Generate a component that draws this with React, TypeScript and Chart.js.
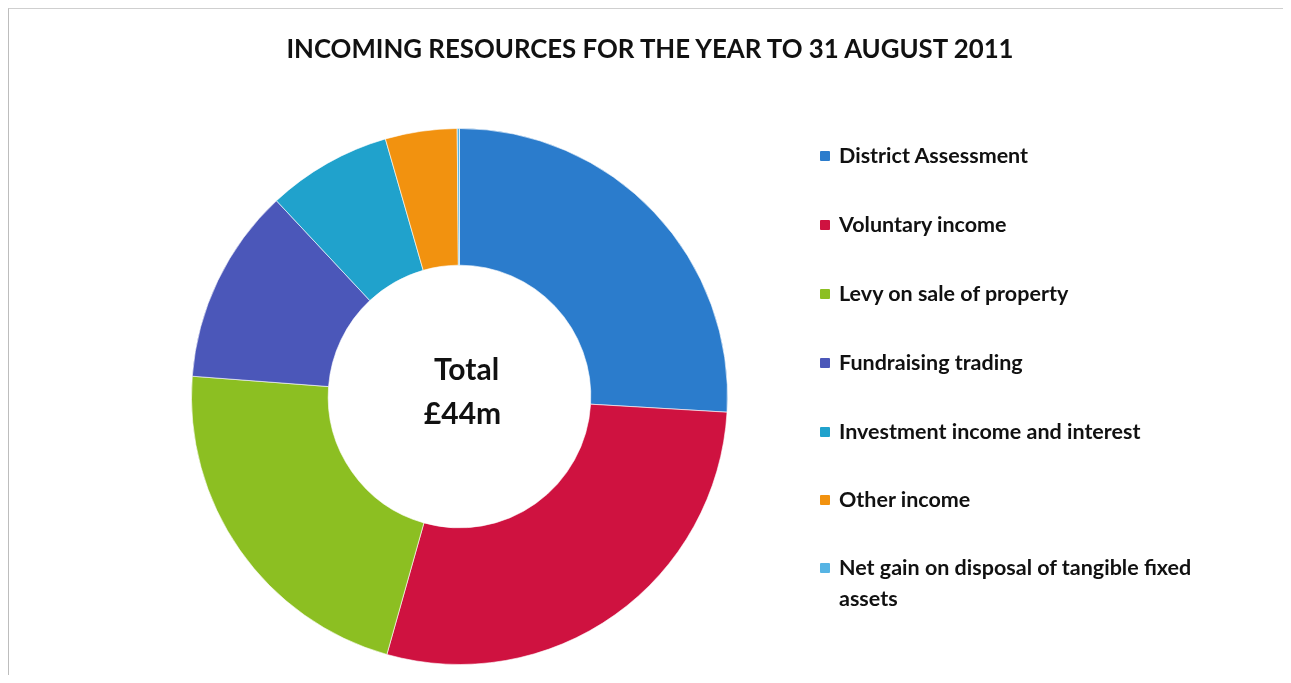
import React, { useEffect, useRef } from "react";
import { Chart, registerables } from "chart.js";

Chart.register(...registerables);

const TITLE = "INCOMING RESOURCES FOR THE YEAR TO 31 AUGUST 2011";
const categories = [
  "District Assessment",
  "Voluntary income",
  "Levy on sale of property",
  "Fundraising trading",
  "Investment income and interest",
  "Other income",
  "Net gain on disposal of tangible fixed assets",
];
// £m (total ≈ £44m)
const values = [11.4, 12.5, 9.6, 5.2, 3.3, 1.9, 0.06];
const colors = ["#2b7ccc", "#cf1240", "#8cbf22", "#4b57b9", "#20a2cc", "#f2920f", "#56b4e4"];
const centerLines = ["Total", "£44m"];

const FONT = "Lato, 'Open Sans', sans-serif";

const centerTextPlugin = {
  id: "centerText",
  afterDatasetsDraw(chart: any) {
    const meta = chart.getDatasetMeta(0);
    if (!meta.data.length) return;
    const { x, y } = meta.data[0];
    const ctx = chart.ctx;
    ctx.save();
    ctx.fillStyle = "#111";
    ctx.font = `bold 30px ${FONT}`;
    ctx.textAlign = "center";
    ctx.textBaseline = "middle";
    ctx.fillText(centerLines[0], x + 7, y - 26);
    ctx.fillText(centerLines[1], x + 3, y + 18);
    ctx.restore();
  },
};

export default function App() {
  const ref = useRef<HTMLCanvasElement>(null);
  useEffect(() => {
    if (!ref.current) return;
    const chart = new Chart(ref.current, {
      type: "doughnut",
      data: {
        labels: categories,
        datasets: [
          {
            data: values,
            backgroundColor: colors,
            borderColor: "rgba(255,255,255,0.6)",
            borderWidth: 1,
          },
        ],
      },
      options: {
        responsive: false,
        animation: false,
        cutout: "49%",
        layout: { padding: { left: 182, right: 555, top: 119, bottom: 10 } },
        plugins: {
          legend: { display: false },
          tooltip: { enabled: false },
          title: { display: false },
        },
      },
      plugins: [centerTextPlugin],
    });
    return () => chart.destroy();
  }, []);

  const legendCenter = [155, 224, 293, 362, 431, 499, 567];

  return (
    <div
      style={{
        position: "relative",
        width: 1275,
        height: 667,
        background: "#fff",
        borderTop: "1px solid #cfcfcf",
        borderLeft: "1px solid #bdbdbd",
        boxSizing: "border-box",
      }}
    >
      <canvas ref={ref} width={1274} height={666} style={{ display: "block" }} />
      <div
        style={{
          position: "absolute",
          left: 0,
          width: 1282,
          top: 21,
          textAlign: "center",
          fontFamily: FONT,
          fontWeight: 700,
          fontSize: 25.8,
          letterSpacing: 0,
          lineHeight: "36px",
          color: "#111",
          whiteSpace: "nowrap",
        }}
      >
        {TITLE}
      </div>
      {categories.map((c, i) => (
        <div
          key={c}
          style={{
            position: "absolute",
            left: 811,
            top: legendCenter[i] - 8 - 16,
            width: 420,
            display: "flex",
            alignItems: "flex-start",
            fontFamily: FONT,
            fontWeight: 700,
            fontSize: 21.5,
            lineHeight: "31px",
            color: "#111",
          }}
        >
          <span
            style={{
              display: "inline-block",
              width: 10,
              height: 10,
              background: colors[i],
              marginTop: 11,
              marginRight: 9,
              flex: "0 0 auto",
              borderRadius: 1,
            }}
          />
          <span style={{ width: 372 }}>{c}</span>
        </div>
      ))}
    </div>
  );
}
